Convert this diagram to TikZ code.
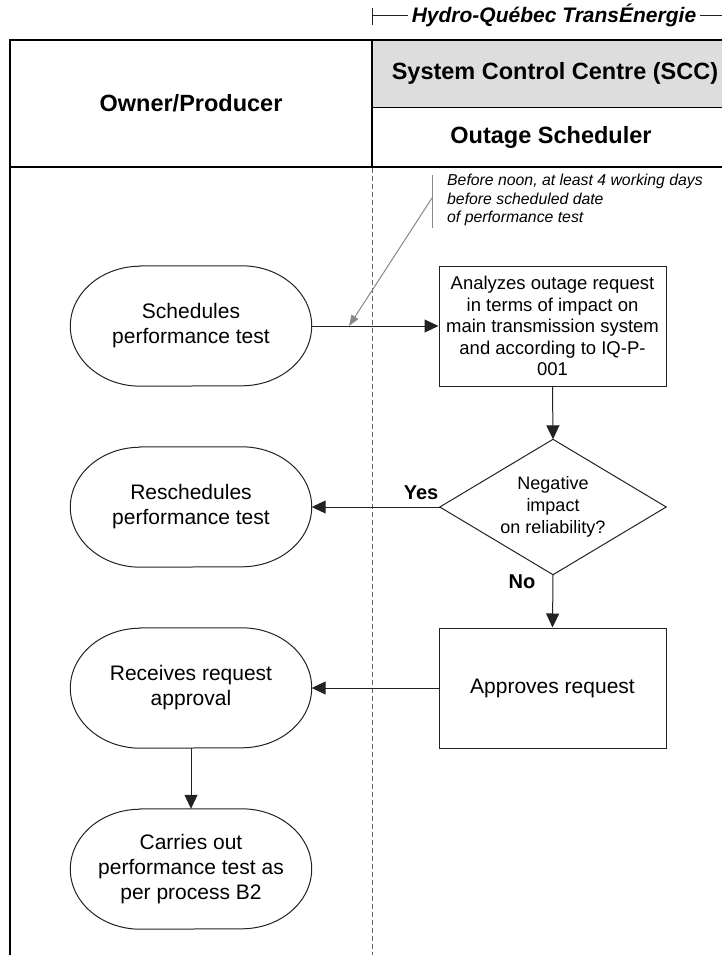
\documentclass[tikz,border=0pt]{standalone}
\usepackage{fontspec}
\setmainfont{Liberation Sans}
\usetikzlibrary{arrows.meta}
\definecolor{linec}{HTML}{222222}
\definecolor{hdrfill}{HTML}{DDDDDD}
\definecolor{notec}{HTML}{888888}
\definecolor{dashc}{HTML}{666666}
\newcommand\drawoval[1]{\draw[shapeline] ([xshift=70pt]#1.north west) -- ([xshift=-70pt]#1.north east) arc[start angle=90,end angle=-90,x radius=70pt,y radius=60pt] -- ([xshift=70pt]#1.south west) arc[start angle=270,end angle=90,x radius=70pt,y radius=60pt] -- cycle;}
\tikzset{
  shapeline/.style={draw=linec, line width=1pt},
  ovaltext/.style={font=\fontsize{21}{25}\selectfont, align=center, minimum width=241pt, minimum height=120pt, inner sep=0pt},
  boxnode/.style={shapeline, align=center, minimum width=227pt, minimum height=120pt, inner sep=0pt},
  flow/.style={draw=linec, line width=1pt, -{Triangle[length=14pt,width=13pt]}},
  notearrow/.style={draw=notec, line width=1pt, -{Triangle[length=11pt,width=8pt]}},
  header/.style={font=\fontsize{23.5}{27}\selectfont\bfseries},
  border/.style={draw=black, line width=2pt},
  lbl/.style={font=\fontsize{20}{24}\selectfont\bfseries},
}
\begin{document}
\begin{tikzpicture}[x=1pt,y=-1pt]
\useasboundingbox (0,0) rectangle (722,955);
\clip (0,0) rectangle (722,955);
% title
\node[font=\fontsize{21}{25}\selectfont\bfseries\itshape] (title) at (554,15) {Hydro-Québec TransÉnergie};
\coordinate (tl) at (372,15);
\coordinate (tr) at (722,15);
\draw[linec, line width=0.8pt] (372,8) -- (372,25);
\draw[linec, line width=0.8pt] (tl) -- (title.west);
\draw[linec, line width=0.8pt] (title.east) -- (tr);
% header table
\fill[hdrfill] (372,40) rectangle (730,107.5);
\draw[border] (10,40) -- (730,40);
\draw[border] (10,39) -- (10,960);
\draw[border] (372,40) -- (372,167);
\draw[draw=black, line width=1.5pt] (372,107.5) -- (730,107.5);
\draw[border] (10,167) -- (730,167);
\draw[dashc, line width=1pt, dash pattern=on 5pt off 3pt] (372,168) -- (372,960);
\node[header] (owner) at (191,103) {Owner/Producer};
\node[header] (scc) at (555,73) {System Control Centre (SCC)};
\node[header] (osch) at (551,137) {Outage Scheduler};
% annotation
\draw[notec, line width=1pt] (432,175) -- (432,228);
\node[anchor=west, align=left, font=\fontsize{15.8}{18.3}\selectfont\itshape, inner sep=0pt] (note) at (447,200) {Before noon, at least 4 working days\\before scheduled date\\of performance test};
\coordinate (noteA) at (432,198);
\coordinate (noteT) at (349,326);
\draw[notearrow] (noteA) -- (noteT);
% shapes
\node[ovaltext] (sched) at (191,326) {Schedules\\performance test};
\drawoval{sched}
\node[ovaltext] (resched) at (191,507) {Reschedules\\performance test};
\drawoval{resched}
\node[ovaltext] (recv) at (191,688) {Receives request\\approval};
\drawoval{recv}
\node[ovaltext] (carry) at (191,869) {Carries out\\performance test as\\per process B2};
\drawoval{carry}
\node[boxnode, font=\fontsize{18.5}{21.5}\selectfont] (analyze) at (552.5,326) {Analyzes outage request\\in terms of impact on\\main transmission system\\and according to IQ-P-\\001};
\node[align=center, minimum width=226pt, minimum height=135pt, inner sep=0pt, font=\fontsize{18}{22}\selectfont] (dec) at (553,507) {Negative\\impact\\on reliability?};
\draw[shapeline] (dec.north) -- (dec.east) -- (dec.south) -- (dec.west) -- cycle;
\node[boxnode, font=\fontsize{21}{25}\selectfont] (approve) at (552.5,688) {Approves request};
% connectors
\draw[flow] (sched.east) -- (analyze.west);
\draw[flow] (analyze.south) -- (dec.north);
\draw[flow] (dec.west) -- (resched.east);
\draw[flow] (dec.south) -- (approve.north);
\draw[flow] (approve.west) -- (recv.east);
\draw[flow] (recv.south) -- (carry.north);
\node[lbl] (yes) at (421,493) {Yes};
\node[lbl] (no) at (522,582) {No};
\end{tikzpicture}
\end{document}
